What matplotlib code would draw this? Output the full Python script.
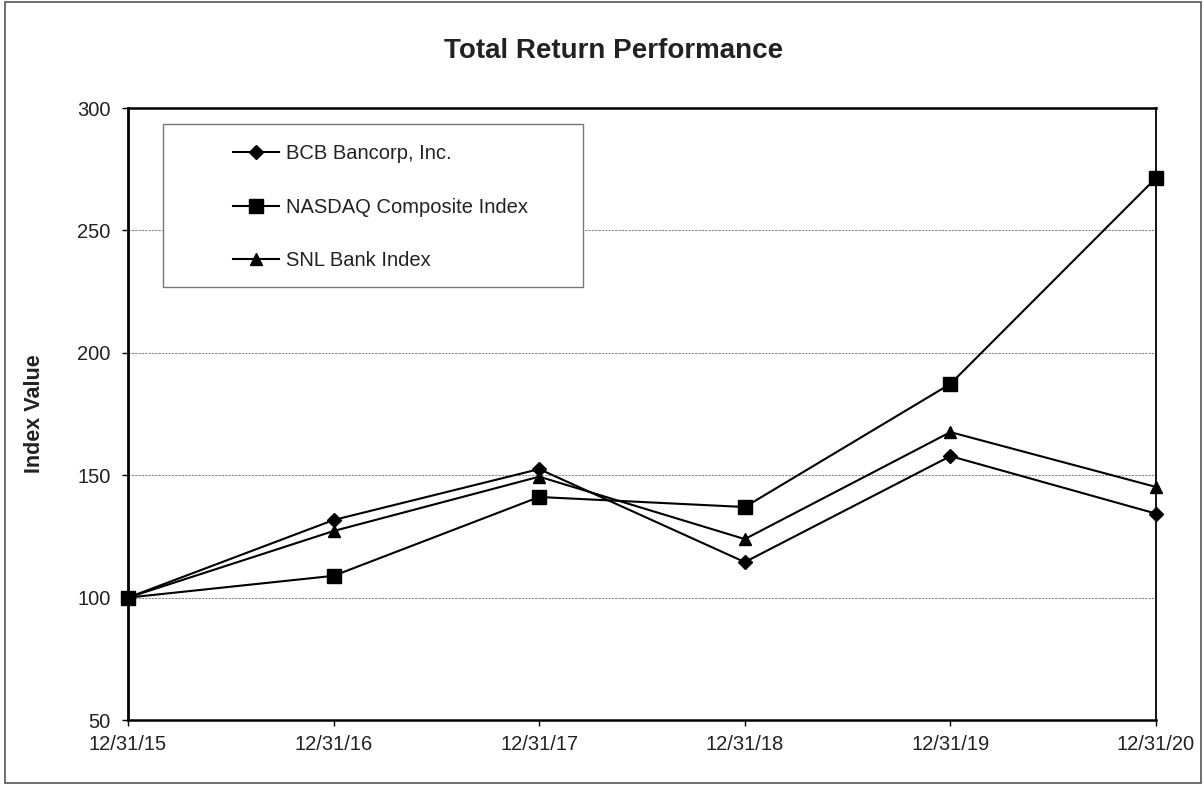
import matplotlib.pyplot as plt
from matplotlib.patches import Rectangle

plt.rcParams["font.family"] = ["Liberation Sans", "DejaVu Sans"]

dates = ["12/31/15", "12/31/16", "12/31/17", "12/31/18", "12/31/19", "12/31/20"]
bcb = [100, 131.7, 152.5, 114.5, 157.8, 134.3]
nasdaq = [100, 108.9, 141.1, 137.0, 187.3, 271.4]
snl = [100, 127.2, 149.4, 123.9, 167.6, 145.2]

series = [
    ("BCB Bancorp, Inc.", bcb, "D", 7),
    ("NASDAQ Composite Index", nasdaq, "s", 10),
    ("SNL Bank Index", snl, "^", 9),
]

fig = plt.figure(figsize=(12.04, 7.85), dpi=100)
ax = fig.add_axes([128 / 1204, 1 - 720 / 785, 1028 / 1204, 612 / 785])

x = list(range(len(dates)))
for label, vals, mk, ms in series:
    ax.plot(x, vals, color="black", linewidth=1.5, marker=mk, markersize=ms,
            label=label, clip_on=False, zorder=3)

ax.set_xlim(0, len(dates) - 1)
ax.set_ylim(50, 300)
ax.set_yticks([50, 100, 150, 200, 250, 300])
ax.set_xticks(x)
ax.set_xticklabels(dates)
ax.tick_params(axis="both", direction="out", length=4.5, width=1, labelsize=14.5,
               colors="black")
ax.tick_params(axis="y", pad=8)
ax.tick_params(axis="x", pad=6)
for lbl in ax.get_xticklabels() + ax.get_yticklabels():
    lbl.set_color("#222222")
for y in [100, 150, 200, 250]:
    ax.axhline(y, color="#888888", linestyle=(0, (2, 1)), linewidth=0.8, zorder=1)

for side, lw in [("left", 2.0), ("bottom", 1.8), ("top", 1.8), ("right", 1.3)]:
    ax.spines[side].set_linewidth(lw)
    ax.spines[side].set_color("black")

ax.set_ylabel("Index Value", fontsize=15.5, fontweight="bold", labelpad=23,
              color="#222222")
fig.text(614 / 1204, 1 - 51 / 785, "Total Return Performance", fontsize=20,
         fontweight="bold", ha="center", va="center", color="#222222")

# legend box
ax.add_patch(Rectangle((35 / 1028, (720 - 287) / 612), 420 / 1028, 163 / 612,
                       transform=ax.transAxes, facecolor="white", edgecolor="#777777",
                       linewidth=1.0, zorder=4))
leg = ax.legend(loc="upper left", bbox_to_anchor=(97 / 1028, (720 - 136) / 612),
                frameon=False, fontsize=14.5, labelspacing=1.72, handlelength=2.3,
                handletextpad=0.35, borderaxespad=0, labelcolor="#222222")
leg.set_zorder(5)

# outer border
fig.add_artist(Rectangle((5 / 1204, 2 / 785), 1196 / 1204, 781 / 785,
                         transform=fig.transFigure, fill=False, edgecolor="#555555",
                         linewidth=1.2))

fig.savefig("out.png", dpi=100)
